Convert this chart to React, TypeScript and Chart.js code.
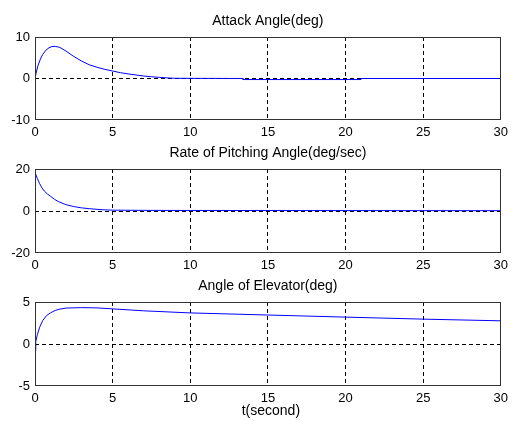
import React, { useEffect, useRef } from "react";
import { Chart, registerables } from "chart.js";
Chart.register(...registerables);

const xTickStep = 5;
const xMin = 0;
const xMax = 30;

const attackT = [0, 0.1, 0.2, 0.35, 0.5, 0.7, 0.9, 1.1, 1.3, 1.6, 2.0, 2.5, 3.0, 3.5, 4.0, 4.5, 5.0, 5.5, 6.0, 6.5, 7.0, 7.5, 8.0, 8.5, 9.0, 13.4, 13.4, 21, 21, 30];
const attackV = [0, 1.8, 3.2, 4.7, 5.8, 6.8, 7.4, 7.7, 7.75, 7.5, 6.6, 5.3, 4.2, 3.3, 2.7, 2.2, 1.8, 1.4, 1.1, 0.85, 0.6, 0.42, 0.28, 0.15, 0.05, 0, -0.25, -0.25, 0, 0];

const pitchT = [0, 0.02, 0.15, 0.3, 0.45, 0.6, 0.8, 1.0, 1.25, 1.5, 2.0, 2.5, 3.0, 3.5, 4.0, 4.5, 5.0, 7, 10, 20, 30];
const pitchV = [0, 18, 15.5, 13, 11, 9.5, 8.1, 7, 5.6, 4.5, 3, 2.1, 1.5, 1.1, 0.8, 0.55, 0.4, 0.3, 0.25, 0.2, 0.15];

const elevT = [0, 0.05, 0.15, 0.3, 0.5, 0.75, 1.0, 1.3, 1.6, 2, 3, 4, 5, 7, 10, 15, 20, 25, 30];
const elevV = [-0.8, 0.3, 1.1, 2.0, 2.8, 3.4, 3.7, 4.0, 4.15, 4.28, 4.33, 4.3, 4.18, 3.95, 3.7, 3.45, 3.2, 2.96, 2.76];

const titles = ["Attack Angle(deg)", "Rate of Pitching Angle(deg/sec)", "Angle of Elevator(deg)"];
const xAxisLabel = "t(second)";

const FONT = '"Liberation Sans", Arial, sans-serif';

type SubProps = {
  top: number;
  height: number;
  plotTop: number;
  plotBottom: number;
  title: string;
  t: number[];
  v: number[];
  yMin: number;
  yMax: number;
  xLabel?: string;
};

function SubPlot(p: SubProps) {
  const ref = useRef<HTMLCanvasElement | null>(null);
  useEffect(() => {
    if (!ref.current) return;
    const padTop = p.plotTop - p.top;
    const xAxisH = p.top + p.height - p.plotBottom;
    const framePlugin = {
      id: "frame",
      afterDraw(chart: any) {
        const { ctx, chartArea } = chart;
        ctx.save();
        ctx.strokeStyle = "#333";
        ctx.lineWidth = 1;
        ctx.setLineDash([]);
        ctx.strokeRect(
          Math.round(chartArea.left) + 0.5,
          Math.round(chartArea.top) + 0.5,
          Math.round(chartArea.right - chartArea.left) - 1,
          Math.round(chartArea.bottom - chartArea.top) - 1
        );
        ctx.fillStyle = "#000";
        ctx.font = `14px ${FONT}`;
        ctx.textAlign = "center";
        ctx.textBaseline = "alphabetic";
        const cx = (chartArea.left + chartArea.right) / 2;
        ctx.fillText(p.title, cx, chartArea.top - 12);
        if (p.xLabel) {
          ctx.fillText(p.xLabel, cx + 3, chartArea.bottom + 29);
        }
        ctx.restore();
      },
    };
    const data = p.t.map((x, i) => ({ x, y: p.v[i] }));
    const chart = new Chart(ref.current, {
      type: "line",
      data: {
        datasets: [
          {
            data,
            borderColor: "rgb(0,0,255)",
            borderWidth: 1,
            pointRadius: 0,
            tension: 0,
            fill: false,
          },
        ],
      },
      options: {
        animation: false,
        responsive: false,
        devicePixelRatio: 1,
        layout: { padding: { top: padTop, left: 0, right: 7, bottom: 0 } },
        plugins: { legend: { display: false }, tooltip: { enabled: false }, title: { display: false } },
        scales: {
          x: {
            type: "linear",
            min: xMin,
            max: xMax,
            afterFit: (s: any) => {
              s.height = xAxisH;
            },
            ticks: { stepSize: xTickStep, color: "#000", font: { family: FONT, size: 13 }, padding: 5, maxRotation: 0 },
            grid: {
              drawTicks: false,
              color: (c: any) => (c.tick && (c.tick.value === xMin || c.tick.value === xMax) ? "rgba(0,0,0,0)" : "#000"),
              lineWidth: 1,
            },
            border: { display: false, dash: [4, 3] },
          },
          y: {
            type: "linear",
            min: p.yMin,
            max: p.yMax,
            afterFit: (s: any) => {
              s.width = 35;
            },
            ticks: { stepSize: p.yMax, color: "#000", font: { family: FONT, size: 13 }, padding: 5 },
            grid: {
              drawTicks: false,
              color: (c: any) => (c.tick && (c.tick.value === p.yMin || c.tick.value === p.yMax) ? "rgba(0,0,0,0)" : "#000"),
              lineWidth: 1,
            },
            border: { display: false, dash: [4, 3] },
          },
        },
      },
      plugins: [framePlugin],
    });
    return () => chart.destroy();
  }, []);
  return (
    <canvas
      ref={ref}
      width={513}
      height={p.height}
      style={{ position: "absolute", left: 0, top: p.top, width: 513, height: p.height }}
    />
  );
}

export default function App() {
  return (
    <div style={{ position: "fixed", left: 0, top: 0, width: 513, height: 421, background: "#fff", overflow: "hidden" }}>
      <SubPlot top={0} height={140} plotTop={37} plotBottom={120} title={titles[0]} t={attackT} v={attackV} yMin={-10} yMax={10} />
      <SubPlot top={140} height={135} plotTop={169} plotBottom={253} title={titles[1]} t={pitchT} v={pitchV} yMin={-20} yMax={20} />
      <SubPlot top={275} height={146} plotTop={302} plotBottom={386} title={titles[2]} t={elevT} v={elevV} yMin={-5} yMax={5} xLabel={xAxisLabel} />
    </div>
  );
}
